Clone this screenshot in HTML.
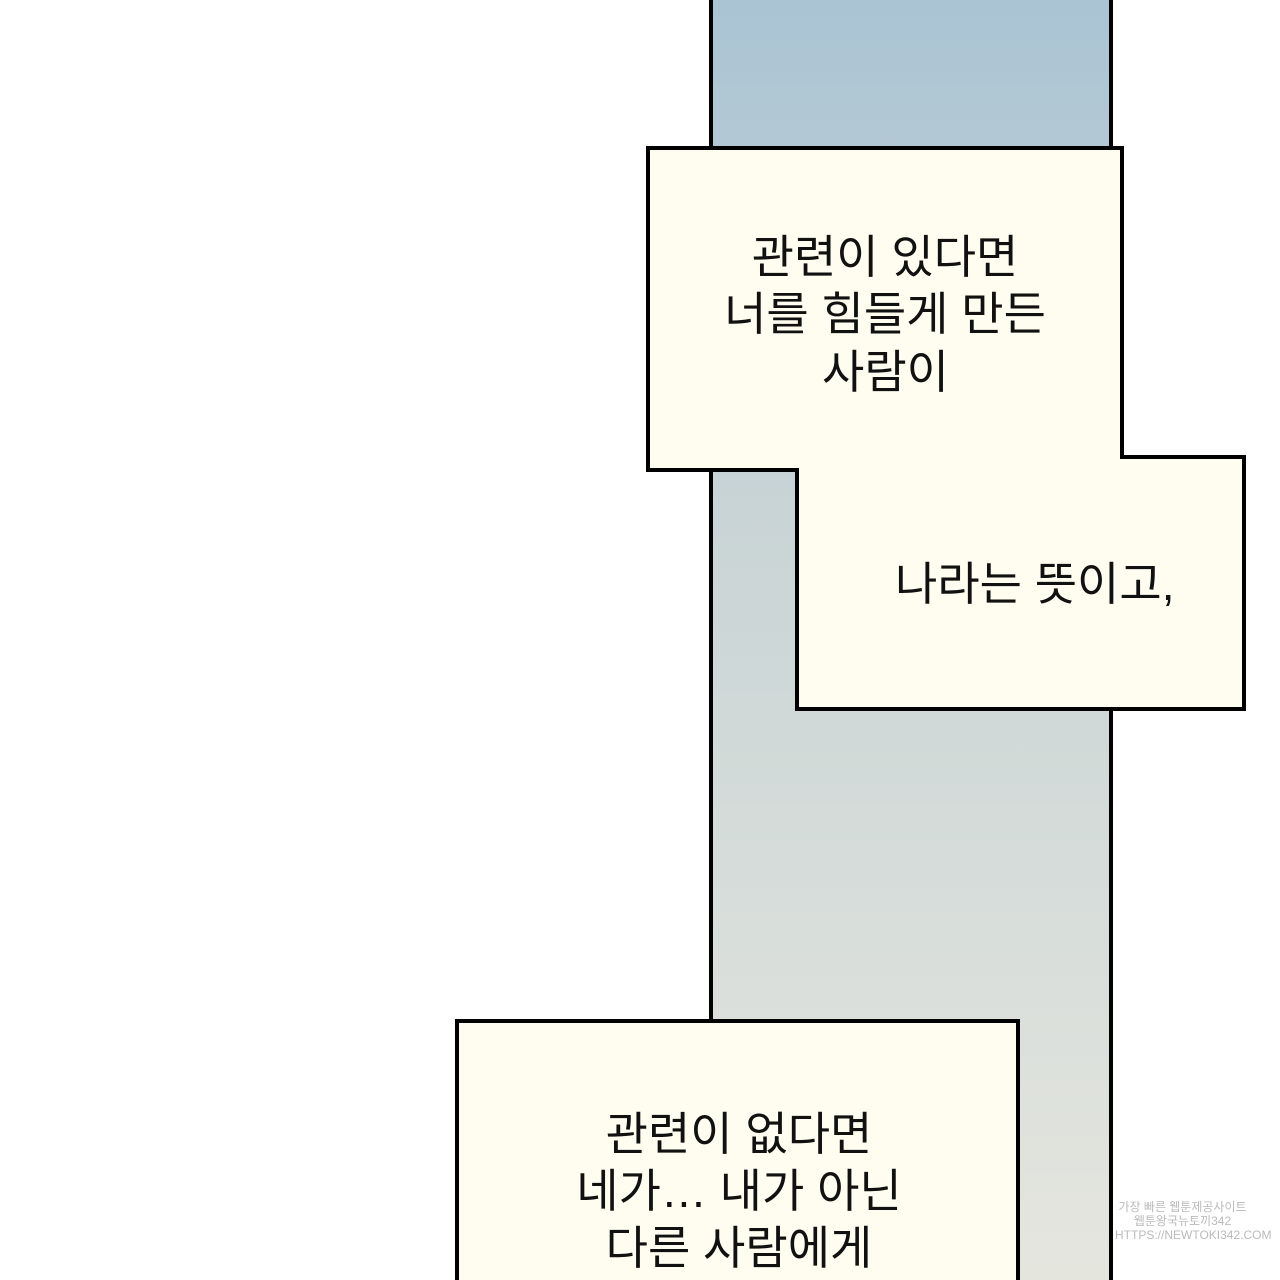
<!DOCTYPE html>
<html><head><meta charset="utf-8"><style>
body{margin:0;width:1280px;height:1280px;background:#fff;position:relative;overflow:hidden;font-family:"Liberation Sans","Noto Sans CJK KR","NanumGothic",sans-serif}
.t{position:absolute;font-size:46px;color:#111;text-align:center;line-height:57px;white-space:nowrap}
</style></head><body>
<svg width="1280" height="1280" style="position:absolute;left:0;top:0">
<defs><linearGradient id="g" x1="0" y1="0" x2="0" y2="1">
<stop offset="0" stop-color="#aac4d4"/><stop offset="0.4" stop-color="#c9d4d6"/><stop offset="1" stop-color="#e5e6de"/></linearGradient></defs>
<rect x="711" y="-5" width="400" height="1300" fill="url(#g)" stroke="#000" stroke-width="4"/>
<polygon points="648,148 1122,148 1122,457 1244,457 1244,709 797,709 797,470 648,470" fill="#fefdf0" stroke="#000" stroke-width="4" stroke-linejoin="miter"/>
<rect x="457" y="1021" width="561" height="280" fill="#fefdf0" stroke="#000" stroke-width="4"/>
</svg>
<div class="t" style="left:685px;top:229px;width:400px">관련이 있다면<br>너를 힘들게 만든</div>
<div class="t" style="left:822px;top:344px">사람이</div>
<div class="t" style="left:895px;top:556px">나라는 뜻이고,</div>
<div class="t" style="left:539px;top:1106px;width:400px">관련이 없다면<br>네가… 내가 아닌<br>다른 사람에게</div>
<div style="position:absolute;left:1115px;top:1200px;width:135px;font-size:12px;color:#bbb;text-align:center;line-height:14px">가장 빠른 웹툰제공사이트<br>웹툰왕국뉴토끼342<br>HTTPS://NEWTOKI342.COM</div>
</body></html>
